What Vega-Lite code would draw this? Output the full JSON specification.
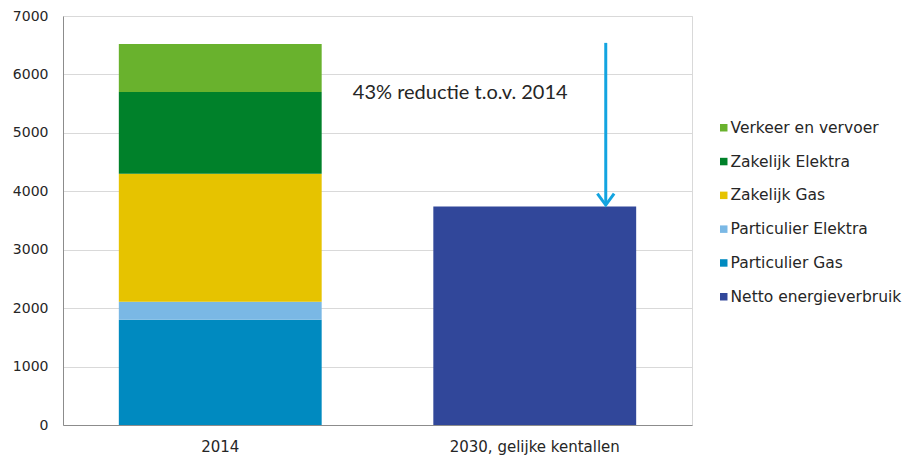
{
  "$schema": "https://vega.github.io/schema/vega-lite/v6.json",
  "autosize": {"type": "none"},
  "width": 629,
  "height": 409,
  "padding": {"left": 63, "top": 16, "right": 215, "bottom": 32},
  "background": "white",
  "config": {
    "view": {"stroke": "#d9d9d9", "strokeWidth": 1},
    "axis": {"labelFont": "DejaVu Sans", "labelColor": "#262626", "domainColor": "#8c8c8c", "gridColor": "#d9d9d9", "ticks": false, "title": null}
  },
  "datasets": {
    "bars": [
      {"cat": "2014", "series": "Particulier Gas", "value": 1800, "ord": 1},
      {"cat": "2014", "series": "Particulier Elektra", "value": 310, "ord": 2},
      {"cat": "2014", "series": "Zakelijk Gas", "value": 2190, "ord": 3},
      {"cat": "2014", "series": "Zakelijk Elektra", "value": 1400, "ord": 4},
      {"cat": "2014", "series": "Verkeer en vervoer", "value": 820, "ord": 5},
      {"cat": "2030, gelijke kentallen", "series": "Netto energieverbruik", "value": 3740, "ord": 6}
    ],
    "arrow": [
      {"cat": "2030, gelijke kentallen", "from": 6540, "to": 3765, "label": "43% reductie t.o.v. 2014", "labelY": 5680}
    ]
  },
  "layer": [
    {
      "data": {"name": "bars"},
      "mark": {"type": "bar"},
      "encoding": {
        "x": {
          "field": "cat", "type": "nominal", "sort": ["2014", "2030, gelijke kentallen"],
          "scale": {"paddingInner": 0.355, "paddingOuter": 0.1775},
          "axis": {"labelAngle": 0, "labelFontSize": 15, "labelPadding": 14, "domain": true, "grid": false}
        },
        "y": {
          "field": "value", "type": "quantitative", "stack": "zero", "aggregate": "sum",
          "scale": {"domain": [0, 7000], "nice": false},
          "axis": {"values": [0, 1000, 2000, 3000, 4000, 5000, 6000, 7000], "format": "d", "labelFontSize": 14, "labelPadding": 15, "grid": true, "domain": true}
        },
        "color": {
          "field": "series", "type": "nominal",
          "scale": {
            "domain": ["Verkeer en vervoer", "Zakelijk Elektra", "Zakelijk Gas", "Particulier Elektra", "Particulier Gas", "Netto energieverbruik"],
            "range": ["#69B22D", "#00812A", "#E6C300", "#7AB8E5", "#008AC0", "#31479A"]
          },
          "legend": {
            "title": null, "orient": "none", "legendX": 653, "legendY": 104,
            "symbolType": "square", "symbolSize": 56, "symbolStrokeWidth": 0,
            "labelFont": "DejaVu Sans", "labelFontSize": 15.5, "labelColor": "#262626",
            "labelOffset": -1, "rowPadding": 16.8, "padding": 0, "labelLimit": 300
          }
        },
        "order": {"field": "ord", "type": "quantitative"}
      }
    },
    {
      "data": {"name": "arrow"},
      "mark": {"type": "rule", "color": "#13A4E0", "strokeWidth": 3, "xOffset": 71},
      "encoding": {
        "x": {"field": "cat", "type": "nominal"},
        "y": {"field": "from", "type": "quantitative"},
        "y2": {"field": "to"}
      }
    },
    {
      "data": {"name": "arrow"},
      "mark": {"type": "point", "shape": "M-1,-1.37L0,0L1,-1.37", "filled": false, "stroke": "#13A4E0", "strokeWidth": 3, "size": 280, "opacity": 1, "xOffset": 71},
      "encoding": {
        "x": {"field": "cat", "type": "nominal"},
        "y": {"field": "to", "type": "quantitative"}
      }
    },
    {
      "data": {"name": "arrow"},
      "mark": {"type": "text", "font": "Lato", "fontSize": 20, "color": "#262626", "align": "center", "baseline": "middle", "xOffset": -74.5},
      "encoding": {
        "x": {"field": "cat", "type": "nominal"},
        "y": {"field": "labelY", "type": "quantitative"},
        "text": {"field": "label"}
      }
    }
  ]
}
